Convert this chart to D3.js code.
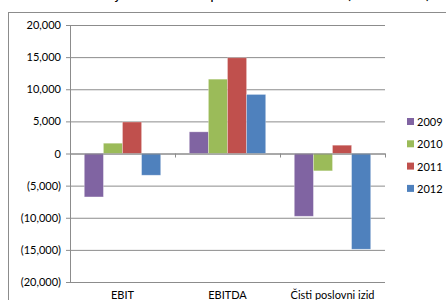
<!DOCTYPE html>
<html lang="sl">
<head>
<meta charset="utf-8">
<title>EBIT, EBITDA, Čisti poslovni izid</title>
<script src="https://cdn.jsdelivr.net/npm/d3@7"></script>
<style>
  body { margin: 0; background: #fff; }
  svg { display: block; font-family: Lato, "Open Sans", sans-serif; }
</style>
</head>
<body>
<script>
// data (thousands)
var categories = ["EBIT", "EBITDA", "Čisti poslovni izid"];
var years = ["2009", "2010", "2011", "2012"];
var v2009 = [-6760, 3370, -9770];
var v2010 = [1600, 11570, -2700];
var v2011 = [4900, 14900, 1290];
var v2012 = [-3380, 9190, -14900];
var yTicks = [20000, 15000, 10000, 5000, 0, -5000, -10000, -15000, -20000];
var colors = ["#8064A2", "#9BBB59", "#C0504D", "#4F81BD"];

var seriesValues = [v2009, v2010, v2011, v2012];
var w = 446, h = 300;
var plotLeft = 70, plotRight = 385, plotTop = 25, plotBottom = 282;

var svg = d3.select("body").append("svg")
  .attr("width", w)
  .attr("height", h);

// chart area border (only top/left inside the window)
svg.append("rect")
  .attr("x", 8.5).attr("y", 12.5)
  .attr("width", 460).attr("height", 320)
  .attr("fill", "none")
  .attr("stroke", "#8c8c8c");

// title, cut off at the top of the picture
svg.append("text")
  .attr("x", 430).attr("y", -1)
  .attr("text-anchor", "end")
  .attr("font-size", 15)
  .attr("fill", "#000")
  .text("Ključni kazalniki poslovnih rezultatov (v tisoč EUR)");

var y = d3.scaleLinear().domain([-20000, 20000]).range([plotBottom, plotTop]);
var x0 = d3.scaleBand().domain(categories).range([plotLeft, plotRight]);
var x1 = d3.scaleBand().domain(years).range([0, x0.bandwidth()])
  .paddingInner(0).paddingOuter(0.75);

// gridlines + left axis
var fmt = function(d) {
  var s = d3.format(",")(Math.abs(d));
  return d < 0 ? "(" + s + ")" : s;
};
var yAxis = d3.axisLeft(y).tickValues(yTicks).tickFormat(fmt)
  .tickSize(-(plotRight - plotLeft)).tickSizeOuter(0).tickPadding(9);
var gy = svg.append("g")
  .attr("transform", "translate(" + plotLeft + ",0)")
  .call(yAxis);
gy.select(".domain").remove();
gy.selectAll(".tick line")
  .attr("x1", -4)
  .attr("stroke", "#8c8c8c");
gy.selectAll(".tick text")
  .attr("font-size", 11)
  .attr("font-family", "Lato, sans-serif")
  .attr("fill", "#000");

svg.append("line")
  .attr("x1", plotLeft + 0.5).attr("x2", plotLeft + 0.5)
  .attr("y1", plotTop).attr("y2", plotBottom)
  .attr("stroke", "#8c8c8c");

// bars
var rows = [];
categories.forEach(function(c, i) {
  years.forEach(function(yr, j) {
    rows.push({ cat: c, year: yr, value: seriesValues[j][i], color: colors[j] });
  });
});

svg.append("g").selectAll("rect")
  .data(rows)
  .enter()
  .append("rect")
  .attr("x", function(d) { return x0(d.cat) + x1(d.year); })
  .attr("width", x1.bandwidth())
  .attr("y", function(d) { return y(Math.max(0, d.value)); })
  .attr("height", function(d) { return Math.abs(y(d.value) - y(0)); })
  .attr("fill", function(d) { return d.color; })
  .attr("stroke", "#fff")
  .attr("stroke-opacity", 0.35)
  .attr("stroke-width", 0.8);

// category axis on the zero line
var xAxis = d3.axisBottom(x0).tickSize(0).tickSizeOuter(0);
var gx = svg.append("g")
  .attr("transform", "translate(0," + y(0) + ")")
  .call(xAxis);
gx.select(".domain").attr("stroke", "#8c8c8c");
gx.selectAll(".tick text").remove();

// category separators below the zero line
var seps = categories.slice(1).map(function(c) { return x0(c); }).concat([plotRight]);
svg.append("g").selectAll("line")
  .data(seps)
  .enter()
  .append("line")
  .attr("x1", function(d) { return Math.round(d) + 0.5; })
  .attr("x2", function(d) { return Math.round(d) + 0.5; })
  .attr("y1", y(0)).attr("y2", y(0) + 4)
  .attr("stroke", "#8c8c8c");

// category labels at the bottom
svg.append("g").selectAll("text")
  .data(categories)
  .enter()
  .append("text")
  .attr("x", function(d) { return x0(d) + x0.bandwidth() / 2; })
  .attr("y", 299)
  .attr("text-anchor", "middle")
  .attr("font-size", 11)
  .attr("fill", "#000")
  .text(function(d) { return d; });

// legend
var legend = svg.append("g").selectAll("g")
  .data(years)
  .enter()
  .append("g")
  .attr("transform", function(d, i) { return "translate(407," + (122 + i * 22.3) + ")"; });
legend.append("rect")
  .attr("x", 0).attr("y", -4)
  .attr("width", 7).attr("height", 7)
  .attr("fill", function(d, i) { return colors[i]; });
legend.append("text")
  .attr("x", 10).attr("y", 4)
  .attr("font-size", 11)
  .attr("fill", "#000")
  .text(function(d) { return d; });
</script>
</body>
</html>
